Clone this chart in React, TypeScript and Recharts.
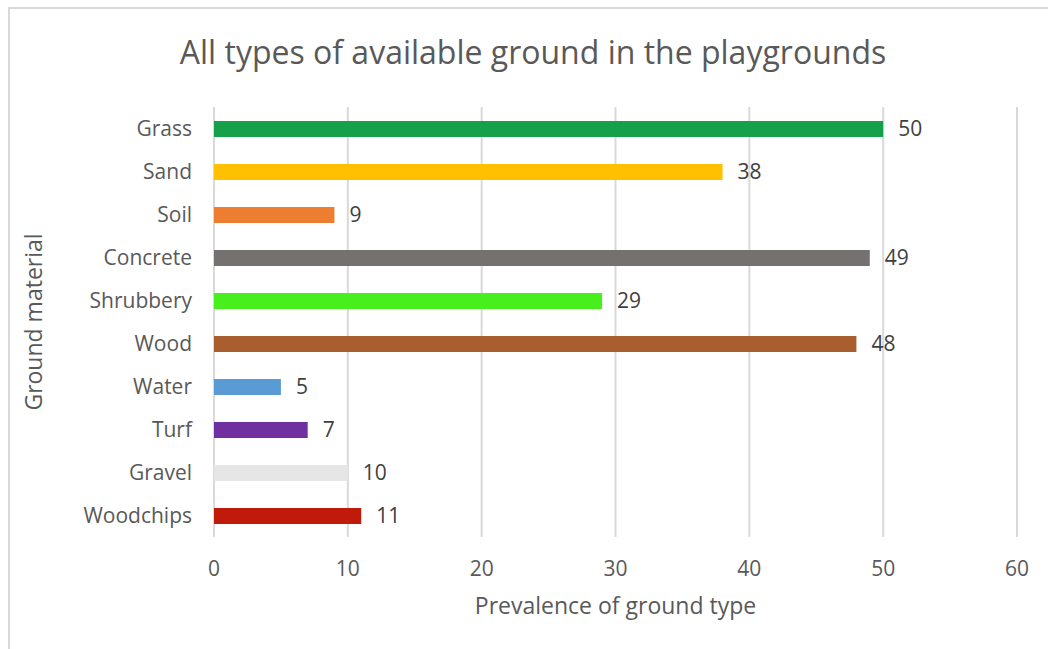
import { Bar, BarChart, CartesianGrid, Cell, LabelList, XAxis, YAxis } from "recharts";

const TITLE = "All types of available ground in the playgrounds";
const X_LABEL = "Prevalence of ground type";
const Y_LABEL = "Ground material";

const materials = ["Grass", "Sand", "Soil", "Concrete", "Shrubbery", "Wood", "Water", "Turf", "Gravel", "Woodchips"];
const counts = [50, 38, 9, 49, 29, 48, 5, 7, 10, 11];
const barColors = ["#16A04B", "#FFC000", "#ED7D31", "#767171", "#47F01C", "#A95E2F", "#5B9BD5", "#7030A0", "#E7E6E6", "#BF1A0A"];
const xTicks = [0, 10, 20, 30, 40, 50, 60];

const data = materials.map((m, i) => ({ material: m, count: counts[i] }));

const FONT = "'Open Sans', sans-serif";
const TEXT = "#595959";
const GRID = "#d9d9d9";

export default function App() {
  return (
    <div style={{ position: "absolute", left: 0, top: 0, width: 1048, height: 649, background: "#fff", overflow: "hidden", fontFamily: FONT }}>
      <div style={{ position: "absolute", left: 8, top: 7, width: 1060, height: 660, border: `2px solid ${GRID}`, boxSizing: "border-box" }} />
      <div style={{ position: "absolute", left: 0, top: 30, width: 1066, textAlign: "center", fontSize: 32, color: TEXT, lineHeight: "44px" }}>
        {TITLE}
      </div>
      <div style={{ position: "absolute", left: 0, top: 0 }}>
        <BarChart width={1048} height={649} data={data} layout="vertical" margin={{ top: 107, right: 31, bottom: 32, left: 20 }}>
          <CartesianGrid horizontal={false} stroke={GRID} strokeWidth={2} />
          <XAxis
            type="number"
            domain={[0, 60]}
            ticks={xTicks}
            axisLine={false}
            tickLine={false}
            tickMargin={18}
            height={80}
            tick={{ fill: TEXT, fontSize: 21, fontFamily: FONT }}
            label={{
              content: ({ viewBox }: any) => (
                <text x={viewBox.x + viewBox.width / 2} y={viewBox.y + viewBox.height - 3} textAnchor="middle" fill={TEXT} fontSize={23} fontFamily={FONT}>
                  {X_LABEL}
                </text>
              ),
            }}
          />
          <YAxis
            type="category"
            dataKey="material"
            width={194}
            axisLine={false}
            tickLine={false}
            tickSize={0}
            tickMargin={22}
            tick={{ fill: TEXT, fontSize: 21, fontFamily: FONT }}
            label={{
              content: ({ viewBox }: any) => {
                const cx = 33;
                const cy = viewBox.y + viewBox.height / 2;
                return (
                  <text x={cx} y={cy} transform={`rotate(-90 ${cx} ${cy})`} textAnchor="middle" dominantBaseline="central" fill={TEXT} fontSize={23} fontFamily={FONT}>
                    {Y_LABEL}
                  </text>
                );
              },
            }}
          />
          <Bar isAnimationActive={false} dataKey="count" barSize={16}>
            {data.map((d, i) => (
              <Cell key={d.material} fill={barColors[i]} />
            ))}
            <LabelList dataKey="count" position="right" offset={15} fill="#404040" fontSize={21} fontFamily={FONT} />
          </Bar>
        </BarChart>
      </div>
    </div>
  );
}
